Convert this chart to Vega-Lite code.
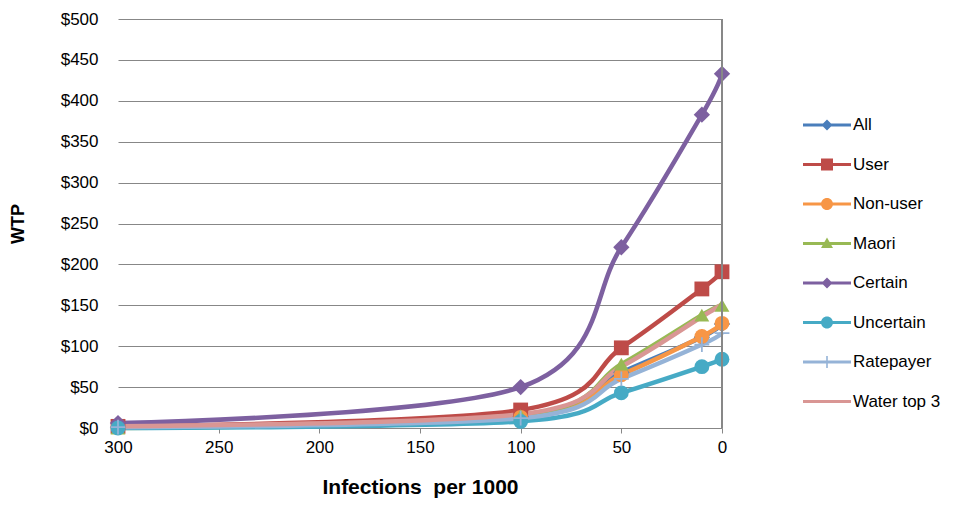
{
  "$schema": "https://vega.github.io/schema/vega-lite/v6.json",
  "width": 604,
  "height": 409,
  "autosize": "none",
  "padding": {"left": 118, "top": 19, "right": 256, "bottom": 78},
  "background": "white",
  "config": {
    "view": {"stroke": null},
    "font": "Liberation Sans",
    "axis": {"labelFont": "Liberation Sans", "titleFont": "Liberation Sans", "labelColor": "#000", "titleColor": "#000"}
  },
  "data": {
    "values": [
      {"series": "All", "x": 300, "y": 1}, {"series": "All", "x": 100, "y": 14}, {"series": "All", "x": 50, "y": 68}, {"series": "All", "x": 10, "y": 111}, {"series": "All", "x": 0, "y": 127},
      {"series": "User", "x": 300, "y": 2}, {"series": "User", "x": 100, "y": 22}, {"series": "User", "x": 50, "y": 98}, {"series": "User", "x": 10, "y": 170}, {"series": "User", "x": 0, "y": 191},
      {"series": "Non-user", "x": 300, "y": 1}, {"series": "Non-user", "x": 100, "y": 13}, {"series": "Non-user", "x": 50, "y": 65}, {"series": "Non-user", "x": 10, "y": 112}, {"series": "Non-user", "x": 0, "y": 128},
      {"series": "Maori", "x": 300, "y": 0}, {"series": "Maori", "x": 100, "y": 15}, {"series": "Maori", "x": 50, "y": 78}, {"series": "Maori", "x": 10, "y": 138}, {"series": "Maori", "x": 0, "y": 150},
      {"series": "Certain", "x": 300, "y": 6}, {"series": "Certain", "x": 100, "y": 50}, {"series": "Certain", "x": 50, "y": 221}, {"series": "Certain", "x": 10, "y": 383}, {"series": "Certain", "x": 0, "y": 433},
      {"series": "Uncertain", "x": 300, "y": 0}, {"series": "Uncertain", "x": 100, "y": 8}, {"series": "Uncertain", "x": 50, "y": 43}, {"series": "Uncertain", "x": 10, "y": 75}, {"series": "Uncertain", "x": 0, "y": 84},
      {"series": "Ratepayer", "x": 300, "y": 1}, {"series": "Ratepayer", "x": 100, "y": 12}, {"series": "Ratepayer", "x": 50, "y": 60}, {"series": "Ratepayer", "x": 10, "y": 102}, {"series": "Ratepayer", "x": 0, "y": 116},
      {"series": "Water top 3", "x": 300, "y": 2}, {"series": "Water top 3", "x": 100, "y": 17}, {"series": "Water top 3", "x": 50, "y": 75}, {"series": "Water top 3", "x": 10, "y": 136}, {"series": "Water top 3", "x": 0, "y": 151}
    ]
  },
  "encoding": {
    "x": {
      "field": "x", "type": "quantitative",
      "scale": {"domain": [0, 300], "reverse": true, "nice": false},
      "axis": {
        "title": "Infections\u00a0 per 1000", "titleFontSize": 21, "titleFontWeight": "bold", "titlePadding": 21,
        "values": [300, 250, 200, 150, 100, 50, 0], "labelFontSize": 17, "labelPadding": 6,
        "grid": false, "domainColor": "#878787", "tickColor": "#878787", "tickSize": 5, "labelFlush": false
      }
    },
    "y": {
      "field": "y", "type": "quantitative",
      "scale": {"domain": [0, 500], "nice": false},
      "axis": {
        "title": "WTP", "titleFontSize": 18, "titleFontWeight": "bold", "titlePadding": 33,
        "values": [0, 50, 100, 150, 200, 250, 300, 350, 400, 450, 500],
        "labelExpr": "'$' + datum.value", "labelFontSize": 17, "labelPadding": 20,
        "grid": true, "gridColor": "#878787", "domain": false, "ticks": false
      }
    },
    "color": {
      "field": "series", "type": "nominal",
      "scale": {
        "domain": ["All", "User", "Non-user", "Maori", "Certain", "Uncertain", "Ratepayer", "Water top 3"],
        "range": ["#4A7EBB", "#BE4B48", "#F79646", "#98B954", "#7D60A0", "#46AAC5", "#95B3D7", "#D99694"]
      },
      "legend": {
        "title": null, "orient": "none", "legendX": 699, "legendY": 96, "padding": 0,
        "symbolSize": 400, "labelFontSize": 17, "labelFont": "Liberation Sans", "labelColor": "#000",
        "labelOffset": 16, "rowPadding": 21.5, "labelLimit": 200,
        "encode": {
          "symbols": {
            "update": {
              "shape": {"signal": "datum.value === 'All' || datum.value === 'Certain' ? 'M-2.4,-0.15H2.4V0.15H-2.4Z M0,-0.55L0.55,0L0,0.55L-0.55,0Z' : datum.value === 'User' ? 'M-2.4,-0.15H2.4V0.15H-2.4Z M-0.6,-0.6H0.6V0.6H-0.6Z' : datum.value === 'Non-user' || datum.value === 'Uncertain' ? 'M-2.4,-0.15H2.4V0.15H-2.4Z M-0.6,0A0.6,0.6,0,1,1,0.6,0A0.6,0.6,0,1,1,-0.6,0Z' : datum.value === 'Maori' ? 'M-2.4,-0.15H2.4V0.15H-2.4Z M0,-0.6L0.6,0.45L-0.6,0.45Z' : datum.value === 'Ratepayer' ? 'M-2.4,-0.15H2.4V0.15H-2.4Z M-0.08,-0.6H0.08V0.6H-0.08Z' : 'M-2.4,-0.15H2.4V0.15H-2.4Z'"},
              "fill": {"scale": "color", "field": "value"},
              "stroke": {"value": "transparent"},
              "strokeWidth": {"value": 0},
              "opacity": {"value": 1},
              "size": {"value": 400}
            }
          }
        }
      }
    }
  },
  "layer": [
    {
      "mark": {"type": "line", "interpolate": "cardinal", "tension": 0, "strokeWidth": 4.5}
    },
    {
      "transform": [{"filter": "datum.series !== 'Water top 3'"}],
      "mark": {"type": "point", "filled": true, "opacity": 1, "size": 220},
      "encoding": {
        "shape": {
          "field": "series", "type": "nominal",
          "scale": {
            "domain": ["All", "User", "Non-user", "Maori", "Certain", "Uncertain", "Ratepayer"],
            "range": ["M0,-1.1L1.1,0L0,1.1L-1.1,0Z", "square", "circle", "triangle-up", "M0,-1.1L1.1,0L0,1.1L-1.1,0Z", "circle", "M-1,-0.12H1V0.12H-1Z M-0.12,-1H0.12V1H-0.12Z"]
          },
          "legend": null
        }
      }
    },
    {
      "mark": {"type": "rule", "color": "#878787", "strokeWidth": 1},
      "encoding": {"x": {"datum": 0}, "y": {"datum": 0}, "y2": {"datum": 500}, "color": {"value": "#878787"}}
    }
  ]
}
